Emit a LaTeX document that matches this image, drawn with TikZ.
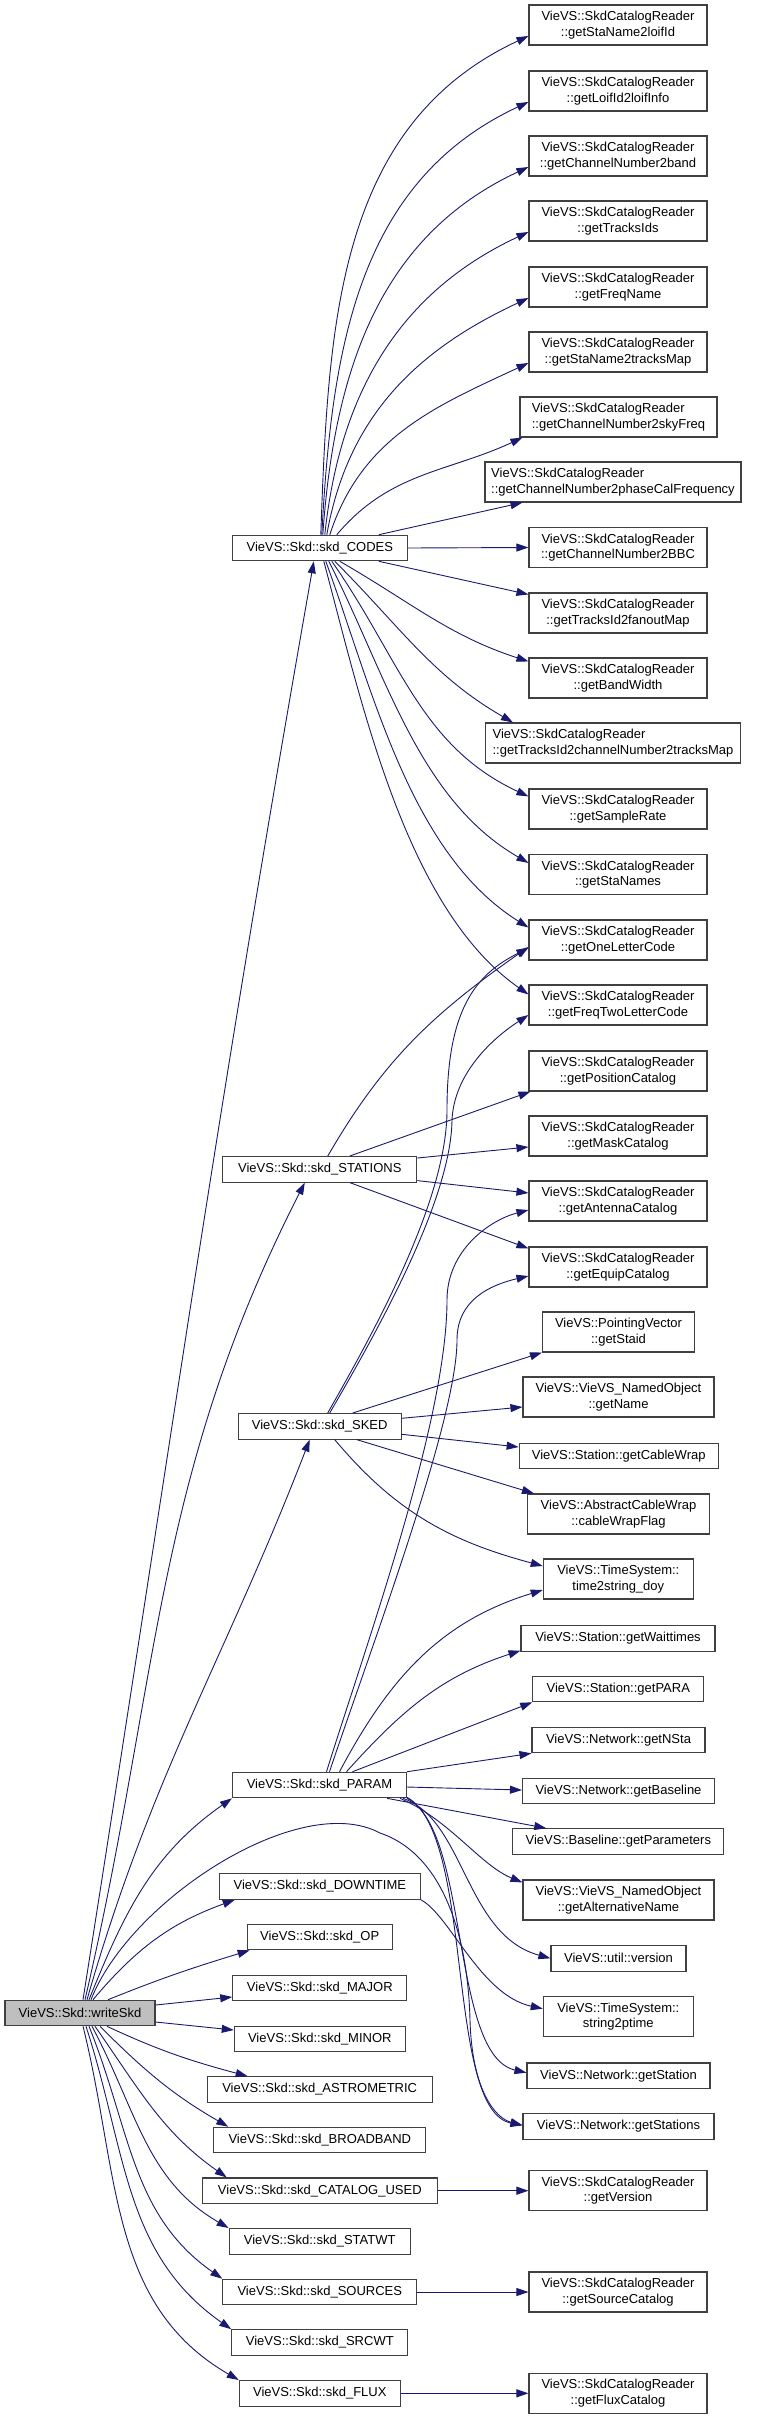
\documentclass[tikz,border=0pt]{standalone}
\usepackage{fontspec}
\setmainfont{Liberation Sans}
\usetikzlibrary{arrows.meta}
\definecolor{edgec}{RGB}{25,25,112}
\definecolor{boxc}{RGB}{64,64,64}
\definecolor{mainfill}{RGB}{191,191,191}
\begin{document}
\begin{tikzpicture}[x=1pt,y=1pt,
  box/.style={draw=boxc, line width=1.1pt, fill=white, inner sep=0pt, minimum height=25.5pt, font=\fontsize{13}{15.5}\selectfont, align=center},
  box2/.style={box, minimum height=40pt},
  cr/.style={box2, minimum width=178pt},
  edge/.style={draw=edgec, line width=0.9pt, -{Triangle[length=12pt,width=8pt]}},
]
\useasboundingbox (0,0) rectangle (757,-2419);
% right column
\node[cr] (sn2l) at (618,-25) {VieVS::SkdCatalogReader\\::getStaName2loifId};
\node[cr] (ll) at (618,-91) {VieVS::SkdCatalogReader\\::getLoifId2loifInfo};
\node[cr] (cnb) at (618,-156) {VieVS::SkdCatalogReader\\::getChannelNumber2band};
\node[cr] (tid) at (618,-221) {VieVS::SkdCatalogReader\\::getTracksIds};
\node[cr] (fqn) at (618,-287) {VieVS::SkdCatalogReader\\::getFreqName};
\node[cr] (sntm) at (618,-352) {VieVS::SkdCatalogReader\\::getStaName2tracksMap};
\node[box2, minimum width=197pt, align=left] (sky) at (618.5,-417) {VieVS::SkdCatalogReader\\::getChannelNumber2skyFreq};
\node[box2, minimum width=256pt, align=left] (pcf) at (613,-482) {VieVS::SkdCatalogReader\\::getChannelNumber2phaseCalFrequency};
\node[cr] (bbc) at (618,-547.5) {VieVS::SkdCatalogReader\\::getChannelNumber2BBC};
\node[cr] (fan) at (618,-613) {VieVS::SkdCatalogReader\\::getTracksId2fanoutMap};
\node[cr] (bw) at (618,-678) {VieVS::SkdCatalogReader\\::getBandWidth};
\node[box2, minimum width=255pt, align=left] (tcn) at (613,-743) {VieVS::SkdCatalogReader\\::getTracksId2channelNumber2tracksMap};
\node[cr] (sr) at (618,-809) {VieVS::SkdCatalogReader\\::getSampleRate};
\node[cr] (sns) at (618,-874.5) {VieVS::SkdCatalogReader\\::getStaNames};
\node[cr] (olc) at (618,-940) {VieVS::SkdCatalogReader\\::getOneLetterCode};
\node[cr] (ftlc) at (618,-1005) {VieVS::SkdCatalogReader\\::getFreqTwoLetterCode};
\node[cr] (pos) at (618,-1071) {VieVS::SkdCatalogReader\\::getPositionCatalog};
\node[cr] (mask) at (618,-1136) {VieVS::SkdCatalogReader\\::getMaskCatalog};
\node[cr] (ant) at (618,-1201) {VieVS::SkdCatalogReader\\::getAntennaCatalog};
\node[cr] (equip) at (618,-1267) {VieVS::SkdCatalogReader\\::getEquipCatalog};
\node[box2, minimum width=152pt] (staid) at (618.5,-1332) {VieVS::PointingVector\\::getStaid};
\node[box2, minimum width=191pt] (gname) at (618.5,-1397) {VieVS::VieVS\_NamedObject\\::getName};
\node[box, minimum width=199pt] (gcw) at (618.7,-1456) {VieVS::Station::getCableWrap};
\node[box2, minimum width=182pt] (cwf) at (618.5,-1514) {VieVS::AbstractCableWrap\\::cableWrapFlag};
\node[box2, minimum width=150pt] (t2s) at (618.3,-1579) {VieVS::TimeSystem::\\time2string\_doy};
\node[box, minimum width=194pt] (wait) at (618,-1638.3) {VieVS::Station::getWaittimes};
\node[box, minimum width=171pt] (para) at (618.3,-1689) {VieVS::Station::getPARA};
\node[box, minimum width=173pt] (nsta) at (618.5,-1740) {VieVS::Network::getNSta};
\node[box, minimum width=192pt] (bl) at (618.5,-1791) {VieVS::Network::getBaseline};
\node[box, minimum width=211pt] (bpar) at (618.3,-1841.5) {VieVS::Baseline::getParameters};
\node[box2, minimum width=191pt] (alt) at (618.5,-1900) {VieVS::VieVS\_NamedObject\\::getAlternativeName};
\node[box, minimum width=135pt] (ver) at (618.5,-1958.3) {VieVS::util::version};
\node[box2, minimum width=150pt] (s2p) at (618.3,-2016.7) {VieVS::TimeSystem::\\string2ptime};
\node[box, minimum width=183pt] (gst) at (618.5,-2075.7) {VieVS::Network::getStation};
\node[box, minimum width=191pt] (gsts) at (618.5,-2126.3) {VieVS::Network::getStations};
\node[cr] (ver2) at (618,-2190.7) {VieVS::SkdCatalogReader\\::getVersion};
\node[cr] (src) at (618,-2292) {VieVS::SkdCatalogReader\\::getSourceCatalog};
\node[cr] (flux) at (618,-2393.3) {VieVS::SkdCatalogReader\\::getFluxCatalog};
% middle column
\node[box, minimum width=175pt] (codes) at (319.8,-548) {VieVS::Skd::skd\_CODES};
\node[box, minimum width=194pt] (stations) at (319.8,-1169.3) {VieVS::Skd::skd\_STATIONS};
\node[box, minimum width=163pt] (sked) at (319.7,-1426.3) {VieVS::Skd::skd\_SKED};
\node[box, minimum width=174pt] (param) at (319.5,-1785) {VieVS::Skd::skd\_PARAM};
\node[box, minimum width=201pt] (down) at (319.8,-1886.5) {VieVS::Skd::skd\_DOWNTIME};
\node[box, minimum width=145pt] (op) at (319.7,-1937) {VieVS::Skd::skd\_OP};
\node[box, minimum width=174pt] (major) at (319.8,-1988) {VieVS::Skd::skd\_MAJOR};
\node[box, minimum width=171pt] (minor) at (319.8,-2039) {VieVS::Skd::skd\_MINOR};
\node[box, minimum width=225pt] (astro) at (319.7,-2089.5) {VieVS::Skd::skd\_ASTROMETRIC};
\node[box, minimum width=212pt] (bb) at (319.8,-2140) {VieVS::Skd::skd\_BROADBAND};
\node[box, minimum width=235pt] (cat) at (319.8,-2190.7) {VieVS::Skd::skd\_CATALOG\_USED};
\node[box, minimum width=181pt] (statwt) at (319.7,-2241.3) {VieVS::Skd::skd\_STATWT};
\node[box, minimum width=194pt] (sources) at (319.8,-2292) {VieVS::Skd::skd\_SOURCES};
\node[box, minimum width=176pt] (srcwt) at (319.8,-2342.5) {VieVS::Skd::skd\_SRCWT};
\node[box, minimum width=161pt] (fluxn) at (319.8,-2393.3) {VieVS::Skd::skd\_FLUX};
% left
\node[box, minimum width=150pt, fill=mainfill] (w) at (80,-2013) {VieVS::Skd::writeSkd};

% ---- edges from skd_CODES
\draw[edge] ([xshift=1]codes.north) to[out=88,in=205] ([yshift=-11]sn2l.west);
\draw[edge] ([xshift=2]codes.north) to[out=87,in=205] ([yshift=-11]ll.west);
\draw[edge] ([xshift=3]codes.north) to[out=86,in=205] ([yshift=-11]cnb.west);
\draw[edge] ([xshift=5]codes.north) to[out=84,in=205] ([yshift=-11]tid.west);
\draw[edge] ([xshift=7]codes.north) to[out=80,in=205] ([yshift=-11]fqn.west);
\draw[edge] ([xshift=10]codes.north) to[out=72,in=205] ([yshift=-11]sntm.west);
\draw[edge] ([xshift=17]codes.north) to[out=50,in=205] ([xshift=3]sky.south west);
\draw[edge] ([xshift=59]codes.north) -- ([xshift=38]pcf.south west);
\draw[edge] (codes.east) -- (bbc.west);
\draw[edge] ([xshift=59]codes.south) -- ([yshift=-2]fan.north west);
\draw[edge] ([xshift=20]codes.south) to[out=-30,in=162] ([yshift=-4]bw.north west);
\draw[edge] ([xshift=15]codes.south) to[out=-45,in=150] ([xshift=28]tcn.north west);
\draw[edge] ([xshift=12]codes.south) to[out=-55,in=155] ([yshift=-8]sr.north west);
\draw[edge] ([xshift=9]codes.south) to[out=-63,in=150,looseness=0.9] ([yshift=-9]sns.north west);
\draw[edge] ([xshift=6]codes.south) to[out=-70,in=148,looseness=0.85] ([yshift=-8]olc.north west);
\draw[edge] ([xshift=4]codes.south) to[out=-75,in=145,looseness=0.8] ([yshift=-10]ftlc.north west);
% ---- edges from skd_STATIONS
\draw[edge] ([xshift=8]stations.north) to[out=60,in=215] ([yshift=-7]olc.west);
\draw[edge] ([xshift=30]stations.north) -- ([xshift=2]pos.south west);
\draw[edge] ([yshift=-2]stations.north east) -- ([yshift=-11]mask.west);
\draw[edge] ([yshift=2]stations.south east) -- ([yshift=8]ant.west);
\draw[edge] ([xshift=30]stations.south) -- ([yshift=-2]equip.north west);
% ---- edges from skd_SKED
\draw[edge] ([xshift=8]sked.north) .. controls (375,-1330) and (447,-1200) .. (447,-1110) .. controls (447,-1010) and (475,-975) .. ([yshift=-8]olc.west);
\draw[edge] ([xshift=10]sked.north) .. controls (378,-1330) and (451,-1200) .. (452,-1120) .. controls (454,-1075) and (490,-1040) .. ([yshift=-10]ftlc.west);
\draw[edge] ([xshift=33]sked.north) -- (staid.south west);
\draw[edge] ([yshift=8]sked.east) -- ([yshift=-10]gname.west);
\draw[edge] ([yshift=-8]sked.east) -- ([yshift=9]gcw.west);
\draw[edge] ([xshift=37]sked.south) -- ([xshift=7]cwf.north west);
\draw[edge] ([xshift=15]sked.south) to[out=-50,in=165] ([yshift=13]t2s.west);
% ---- edges from skd_PARAM
\draw[edge] ([xshift=7]param.north) .. controls (367,-1642) and (447,-1420) .. (447,-1300) .. controls (447,-1250) and (490,-1220) .. ([yshift=-9]ant.west);
\draw[edge] ([xshift=10]param.north) .. controls (372,-1645) and (457,-1420) .. (457,-1340) .. controls (457,-1300) and (490,-1285) .. ([yshift=-9]equip.west);
\draw[edge] ([xshift=20]param.north) to[out=62,in=197] ([yshift=-11]t2s.west);
\draw[edge] ([xshift=27]param.north) to[out=48,in=198] ([yshift=1]wait.south west);
\draw[edge] ([xshift=33]param.north) -- (para.south west);
\draw[edge] (param.north east) -- (nsta.south west);
\draw[edge] ([yshift=-2]param.east) -- ([yshift=1]bl.west);
\draw[edge] ([xshift=-20]param.south east) -- ([xshift=34]bpar.north west);
\draw[edge] ([xshift=-7]param.south east) .. controls (450,-1820) and (480,-1865) .. ([yshift=-3]alt.north west);
\draw[edge] ([xshift=-4]param.south east) .. controls (465,-1820) and (465,-1935) .. (ver.west);
\draw[edge] (param.south east) .. controls (470,-1830) and (450,-2055) .. ([yshift=3]gst.west);
\draw[edge] ([yshift=1]param.south east) .. controls (475,-1835) and (445,-2110) .. ([yshift=1]gsts.west);
% ---- other second-level edges
\draw[edge] (down.south east) .. controls (450,-1915) and (480,-1995) .. ([yshift=8]s2p.west);
\draw[edge] (cat.east) -- (ver2.west);
\draw[edge] (sources.east) -- (src.west);
\draw[edge] (fluxn.east) -- (flux.west);
% ---- edges from writeSkd
\draw[edge] ([xshift=3]w.north) .. controls (172,-1436) and (215,-1123) .. ([xshift=-6]codes.south);
\draw[edge] ([xshift=5]w.north) .. controls (160,-1677) and (154,-1478) .. ([xshift=-15]stations.south);
\draw[edge] ([xshift=7]w.north) .. controls (152,-1773) and (225,-1659) .. ([xshift=-10]sked.south);
\draw[edge] ([xshift=9]w.north) to[out=68,in=-145] (param.south west);
\draw[edge] ([xshift=11]w.north) .. controls (130,-1900) and (300,-1790) .. (380,-1833) .. controls (445,-1855) and (468,-1940) .. (470,-2020) .. controls (472,-2090) and (495,-2118) .. ([yshift=1]gsts.west);
\draw[edge] ([xshift=13]w.north) to[out=50,in=200] ([xshift=16]down.south west);
\draw[edge] ([xshift=28]w.north) to[out=22,in=197] ([xshift=3]op.south west);
\draw[edge] ([yshift=8]w.east) -- ([yshift=-9]major.west);
\draw[edge] ([yshift=-9]w.east) -- ([yshift=9]minor.west);
\draw[edge] ([xshift=27]w.south) to[out=-25,in=165] ([xshift=41]astro.north west);
\draw[edge] ([xshift=20]w.south) to[out=-45,in=150] ([xshift=15]bb.north west);
\draw[edge] ([xshift=15]w.south) to[out=-55,in=145] ([xshift=25]cat.north west);
\draw[edge] ([xshift=12]w.south) to[out=-62,in=150] (statwt.north west);
\draw[edge] ([xshift=9]w.south) to[out=-68,in=145] (sources.north west);
\draw[edge] ([xshift=6]w.south) to[out=-72,in=145] (srcwt.north west);
\draw[edge] ([xshift=3]w.south) to[out=-76,in=150] (fluxn.north west);
\end{tikzpicture}
\end{document}
